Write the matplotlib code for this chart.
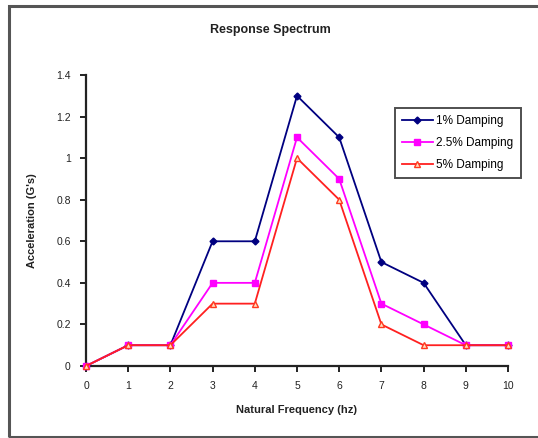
import matplotlib
matplotlib.use("Agg")
import matplotlib.pyplot as plt
from matplotlib.patches import Rectangle

frequency = [0, 1, 2, 3, 4, 5, 6, 7, 8, 9, 10]
damping_1 = [0, 0.1, 0.1, 0.6, 0.6, 1.3, 1.1, 0.5, 0.4, 0.1, 0.1]
damping_2_5 = [0, 0.1, 0.1, 0.4, 0.4, 1.1, 0.9, 0.3, 0.2, 0.1, 0.1]
damping_5 = [0, 0.1, 0.1, 0.3, 0.3, 1.0, 0.8, 0.2, 0.1, 0.1, 0.1]
series_labels = ["1% Damping", "2.5% Damping", "5% Damping"]
y_ticks = [0, 0.2, 0.4, 0.6, 0.8, 1, 1.2, 1.4]
y_tick_labels = ["0", "0.2", "0.4", "0.6", "0.8", "1", "1.2", "1.4"]

plt.rcParams["font.family"] = ["Liberation Sans", "DejaVu Sans"]

W, H = 538, 438
fig = plt.figure(figsize=(W / 100, H / 100), dpi=100)
fig.patch.set_facecolor("white")

# chart frame
fig.patches.append(Rectangle((9 / W, 1.5 / H), 540 / W, (H - 7) / H,
                             transform=fig.transFigure, fill=False,
                             edgecolor="#555555", linewidth=2.2))

ax = fig.add_axes([86 / W, (H - 366) / H, (508 - 86) / W, (366 - 75) / H])

ax.plot(frequency, damping_1, color="#000080", marker="D", markersize=3.5,
        linewidth=1.3, label=series_labels[0], clip_on=False, zorder=3)
ax.plot(frequency, damping_2_5, color="#ff00ff", marker="s", markersize=4.5,
        linewidth=1.3, label=series_labels[1], clip_on=False, zorder=4)
ax.plot(frequency, damping_5, color="#ff2020", marker="^", markersize=4.5,
        markerfacecolor="#ffe0c0", markeredgecolor="#ff3a20",
        linewidth=1.3, label=series_labels[2], clip_on=False, zorder=5)

ax.set_xlim(0, 10)
ax.set_ylim(0, 1.4)
ax.set_xticks(frequency)
ax.set_xticklabels([str(f) for f in frequency])
ax.set_yticks(y_ticks)
ax.set_yticklabels(y_tick_labels)

for s in ("top", "right"):
    ax.spines[s].set_visible(False)
for s in ("left", "bottom"):
    ax.spines[s].set_linewidth(1.6)
    ax.spines[s].set_color("#222222")

ax.tick_params(axis="both", direction="out", length=4, width=1.4,
               labelsize=7.5, colors="#222222", pad=7)

ax.set_xlabel("Natural Frequency (hz)", fontsize=8, fontweight="bold",
              labelpad=10, color="#222222")
ax.set_ylabel("Acceleration (G's)", fontsize=8, fontweight="bold",
              labelpad=14, color="#222222")

fig.text(270 / W, 1 - 30 / H, "Response Spectrum", ha="center", va="center",
         fontsize=9, fontweight="bold", color="#222222")

leg = ax.legend(loc="upper left", bbox_to_anchor=(395 / W, 1 - 108 / H),
                bbox_transform=fig.transFigure, fontsize=8.5, frameon=True,
                fancybox=False, edgecolor="#222222", handlelength=2.6,
                borderpad=0.6, labelspacing=0.85, handletextpad=0.3,
                borderaxespad=0)
leg.get_frame().set_linewidth(1.4)

fig.savefig("out.png", dpi=100, facecolor="white")
